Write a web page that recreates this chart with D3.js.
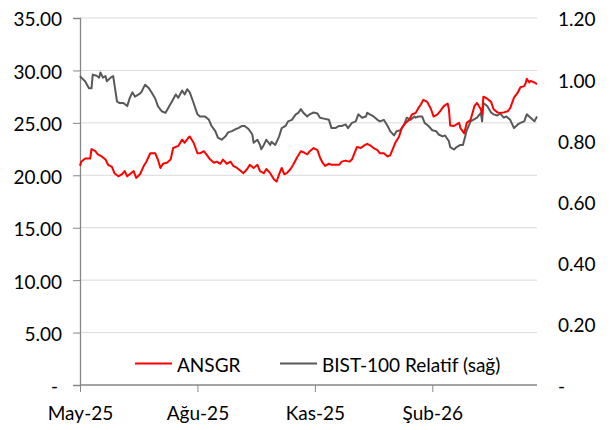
<!DOCTYPE html>
<html>
<head>
<meta charset="utf-8">
<script src="https://cdn.jsdelivr.net/npm/d3@7"></script>
<style>
  html, body { margin: 0; padding: 0; background: #fff; }
  svg { display: block; }
  text { font-family: Lato, "Open Sans", sans-serif; fill: #000; }
</style>
</head>
<body>
<svg id="chart" width="612" height="430"></svg>
<script>
// ---- data (days since 2025-05-01) ----
const startDate = "2025-05-01";
const endDay = 358;

const ansgrDays = [0,1,4,8,9,12,14,17,20,22,25,27,30,33,35,37,39,42,44,47,50,52,55,59,61,63,65,68,71,73,77,80,82,85,86,89,92,94,97,99,102,105,107,110,112,115,118,120,123,126,128,131,133,136,139,141,144,146,149,152,154,156,158,160,162,165,167,170,173,
  175,178,180,183,186,188,190,192,195,197,200,203,205,208,211,213,214,217,220,222,225,228,230,233,235,238,241,243,244,247,250,252,255,258,260,263,265,267,269,272,275,277,280,282,285,288,289,290,293,295,297,298,301,303,306,309,311,314,315,316,319,322,324,327,329,332,335,337,340,343,345,348,349,350,352,353,356,358];
const ansgrValues = [20.9,21.3,21.6,21.6,22.5,22.3,22.0,21.8,21.5,21.0,20.8,20.2,19.9,20.1,20.4,19.9,20.1,20.4,19.75,20.1,20.9,21.3,22.1,22.1,21.5,20.7,21.1,21.2,21.5,22.6,22.8,23.4,23.1,23.6,23.7,23.1,22.1,22.1,22.3,22.0,21.5,21.2,21.3,21.1,21.5,21.1,21.3,20.9,20.7,20.4,20.2,20.6,21.0,20.7,21.0,20.4,20.2,20.6,20.2,19.6,19.4,20.1,20.7,20.1,20.2,20.6,21.0,21.7,22.3,
  22.2,22.0,22.3,22.6,22.4,21.7,21.2,20.9,21.1,21.0,21.0,21.0,21.3,21.4,21.3,21.5,21.8,22.7,22.6,22.8,23.0,22.8,22.6,22.4,22.1,22.1,21.8,21.9,22.2,23.1,23.7,24.5,25.0,25.3,25.8,25.95,26.4,26.75,27.2,27.0,26.3,25.6,25.8,26.1,26.6,26.85,26.3,24.75,24.7,24.85,25.0,24.5,24.0,25.0,25.3,26.6,26.9,26.3,25.8,27.5,27.3,27.0,26.3,26.0,25.95,26.0,26.1,26.4,27.4,27.9,28.4,28.5,28.75,29.2,28.85,29.0,28.85,28.7];

const bistDays = [0,1,4,7,9,10,13,15,16,18,20,21,24,26,27,29,31,34,37,39,41,43,46,48,51,54,56,59,61,64,67,69,72,75,77,80,82,84,86,89,92,94,98,101,103,106,108,111,114,116,119,122,124,127,129,132,135,136,139,141,142,144,146,149,150,153,156,158,161,163,166,169,171,
  173,175,178,180,183,186,188,191,195,197,200,203,205,208,210,213,216,218,221,224,225,227,230,233,235,238,241,243,246,248,251,254,256,259,262,263,265,268,270,273,276,279,281,284,286,289,290,293,295,298,300,303,306,308,311,314,315,316,319,322,324,327,329,332,334,337,340,343,345,348,350,353,356,358];
const bistValues = [1.010,1.005,0.993,0.970,0.970,1.015,1.011,1.005,1.022,1.005,1.010,0.993,1.005,1.010,0.982,0.927,0.922,0.922,0.912,0.939,0.957,0.943,0.950,0.957,0.982,0.970,0.957,0.936,0.912,0.895,0.890,0.905,0.927,0.950,0.939,0.963,0.950,0.967,0.957,0.922,0.885,0.878,0.878,0.867,0.847,0.830,0.809,0.802,0.813,0.826,0.830,0.837,0.840,0.847,0.847,0.837,0.819,0.792,0.802,0.785,0.771,0.785,0.802,0.785,0.795,0.785,0.813,0.840,0.847,0.862,0.867,0.885,0.890,
  0.902,0.890,0.878,0.885,0.891,0.888,0.874,0.871,0.867,0.840,0.840,0.847,0.847,0.852,0.840,0.857,0.862,0.885,0.874,0.878,0.890,0.885,0.878,0.867,0.862,0.867,0.847,0.830,0.816,0.830,0.833,0.852,0.874,0.867,0.878,0.874,0.878,0.878,0.857,0.847,0.833,0.830,0.819,0.813,0.816,0.797,0.778,0.770,0.778,0.785,0.785,0.833,0.862,0.867,0.874,0.890,0.862,0.922,0.912,0.891,0.885,0.881,0.888,0.874,0.878,0.867,0.840,0.852,0.857,0.862,0.885,0.874,0.862,0.878];

const leftTicks = [0,5,10,15,20,25,30,35];
const rightTicks = [0,0.2,0.4,0.6,0.8,1.0,1.2];
const xTickDates = ["2025-05-01","2025-08-01","2025-11-01","2026-02-01"];
const trMonths = ["Oca","Şub","Mar","Nis","May","Haz","Tem","Ağu","Eyl","Eki","Kas","Ara"];
const seriesNames = ["ANSGR","BIST-100 Relatif (sağ)"];
const seriesColors = ["#ff0000","#595959"];

// ---- chart ----
const FS = 19;
const svg = d3.select("#chart");
const parse = d3.timeParse("%Y-%m-%d");
const t0 = parse(startDate);
const toDate = d => d3.timeDay.offset(t0, d);

const plot = {left: 80, right: 537, top: 18, bottom: 385};

const x = d3.scaleTime().domain([t0, toDate(endDay)]).range([plot.left, plot.right]);
const yL = d3.scaleLinear().domain([0, 35]).range([plot.bottom, plot.top]);
const yR = d3.scaleLinear().domain([0, 1.2]).range([plot.bottom, plot.top]);

// gridlines
svg.append("g").selectAll("line").data(leftTicks.filter(d => d > 0)).join("line")
  .attr("x1", plot.left).attr("x2", plot.right)
  .attr("y1", d => yL(d)).attr("y2", d => yL(d))
  .attr("stroke", "#d9d9d9").attr("stroke-width", 1);

const fmt = d => d === 0 ? "-" : d3.format(".2f")(d);

// left axis
const gL = svg.append("g").attr("transform", `translate(${plot.left},0)`)
  .call(d3.axisLeft(yL).tickValues(leftTicks).tickSize(7).tickPadding(11).tickFormat(fmt));
gL.select(".domain").attr("stroke", "#868686").attr("stroke-width", 1.3);
gL.selectAll(".tick line").attr("stroke", "#868686");
gL.selectAll(".tick text").attr("font-size", FS).attr("fill", "#000")
  .attr("font-family", "Lato, sans-serif").attr("dy", "0.42em")
  .attr("dx", d => d === 0 ? -4 : 0);

// right axis
const gR = svg.append("g").attr("transform", `translate(${plot.right},0)`)
  .call(d3.axisRight(yR).tickValues(rightTicks).tickSize(0).tickPadding(21).tickFormat(fmt));
gR.select(".domain").remove();
gR.selectAll(".tick text").attr("font-size", FS).attr("fill", "#000")
  .attr("font-family", "Lato, sans-serif").attr("dy", "0.42em");

// bottom axis
const gB = svg.append("g").attr("transform", `translate(0,${plot.bottom})`)
  .call(d3.axisBottom(x).tickValues(xTickDates.map(parse)).tickSize(7).tickPadding(15)
    .tickFormat(d => trMonths[d.getMonth()] + "-" + String(d.getFullYear()).slice(2)));
gB.select(".domain").attr("stroke", "#868686").attr("stroke-width", 1.3)
  .attr("d", `M${plot.left},0H${plot.right}`);
gB.selectAll(".tick line").attr("stroke", "#868686");
gB.selectAll(".tick text").attr("font-size", FS).attr("fill", "#000")
  .attr("font-family", "Lato, sans-serif");

// lines
const ansgr = ansgrDays.map((d, i) => ({date: toDate(d), v: ansgrValues[i]}));
const bist = bistDays.map((d, i) => ({date: toDate(d), v: bistValues[i]}));

svg.append("path").datum(bist)
  .attr("fill", "none").attr("stroke", seriesColors[1]).attr("stroke-width", 2)
  .attr("stroke-linejoin", "round")
  .attr("d", d3.line().x(d => x(d.date)).y(d => yR(d.v)));

svg.append("path").datum(ansgr)
  .attr("fill", "none").attr("stroke", seriesColors[0]).attr("stroke-width", 2)
  .attr("stroke-linejoin", "round")
  .attr("d", d3.line().x(d => x(d.date)).y(d => yL(d.v)));

// legend
const legendItems = [
  {name: seriesNames[0], color: seriesColors[0], x: 135},
  {name: seriesNames[1], color: seriesColors[1], x: 280}
];
const lg = svg.append("g");
legendItems.forEach(it => {
  lg.append("line").attr("x1", it.x).attr("x2", it.x + 37).attr("y1", 363.5).attr("y2", 363.5)
    .attr("stroke", it.color).attr("stroke-width", 2);
  lg.append("text").attr("x", it.x + 42).attr("y", 371.5).attr("font-size", FS)
    .text(it.name);
});
</script>
</body>
</html>
